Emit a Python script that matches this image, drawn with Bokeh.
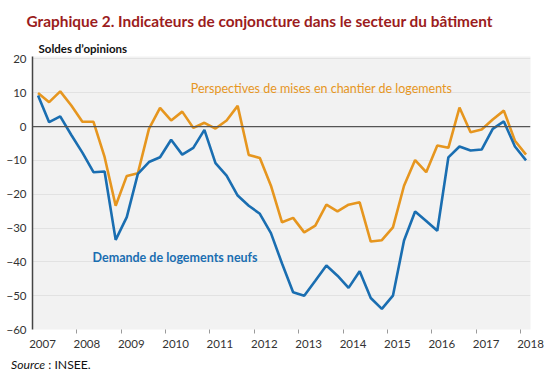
from bokeh.plotting import figure
from bokeh.models import FixedTicker, Title, Span, ColumnDataSource, Range1d, Div
from bokeh.layouts import column
from bokeh.core.properties import value
from bokeh.embed import file_html
from bokeh.resources import INLINE

# Quarterly data, 2007T1 .. 2018T1
years = [y for y in range(2007, 2018) for _ in range(4)] + [2018]
quarters = [1, 2, 3, 4] * 11 + [1]

perspectives = [9.9, 7.2, 10.4, 6.2, 1.4, 1.4, -9.0, -23.4, -14.6, -13.8, -0.7, 5.5,
                1.8, 4.4, -0.4, 1.1, -0.6, 1.8, 6.1, -8.4, -9.3, -17.5, -28.3, -27.0,
                -31.3, -29.3, -23.1, -25.1, -23.1, -22.4, -34.0, -33.6, -29.8, -17.5,
                -9.9, -13.5, -5.6, -6.3, 5.6, -1.7, -0.9, 2.1, 4.7, -4.2, -8.3]
demande = [9.2, 1.3, 3.0, -2.5, -7.7, -13.5, -13.3, -33.5, -26.8, -14.0, -10.5, -9.1,
           -3.9, -8.3, -6.3, -1.0, -10.8, -14.5, -20.4, -23.4, -25.8, -31.5, -40.5, -49.0,
           -50.0, -45.6, -41.1, -44.1, -47.7, -42.8, -50.7, -53.9, -50.0, -33.7, -25.1,
           -27.9, -30.8, -9.1, -5.9, -7.1, -6.8, -0.7, 1.5, -5.9, -10.0]

tick_years = list(range(2007, 2019))
y_ticks = [20, 10, 0, -10, -20, -30, -40, -50, -60]

title_text = "Graphique 2. Indicateurs de conjoncture dans le secteur du bâtiment"
unit_text = "Soldes d\u2019opinions"
label_persp = "Perspectives de mises en chantier de logements"
label_dem = "Demande de logements neufs"
source_html = "<i>Source</i> : INSEE."

ORANGE = "#E6961F"
BLUE = "#1A6EB1"
FONT = "Lato"

x = [y + (q - 0.5) / 4 for y, q in zip(years, quarters)]
src = ColumnDataSource(dict(x=x, persp=perspectives, dem=demande))

p = figure(width=550, height=356, output_backend="svg", toolbar_location=None,
           x_range=Range1d(2007, 2018.226), y_range=Range1d(-60, 20.7),
           min_border_left=32, min_border_right=20, min_border_top=56, min_border_bottom=27)
p.outline_line_color = None
p.background_fill_color = "#f2f2f2"
p.border_fill_color = "white"

# titles
p.title.text = title_text
p.title.text_font = FONT
p.title.text_font_size = "15.4px"
p.title.text_font_style = "bold"
p.title.text_color = "#9B1C20"
p.title.align = "left"
p.title.offset = -6
p.title.standoff = 16

p.add_layout(Title(text=unit_text, text_font=FONT, text_font_size="11.5px",
                   text_font_style="bold", text_color="#111111", align="left",
                   offset=6, standoff=4), "above")

# axes
label_shift = 0.2257
xt = FixedTicker(ticks=[t + label_shift for t in tick_years], minor_ticks=tick_years[1:])
p.xaxis.ticker = xt
p.xaxis.major_label_overrides = {t + label_shift: str(t) for t in tick_years}
p.xaxis.major_tick_out = 0
p.xaxis.major_tick_in = 0
p.xaxis.minor_tick_out = 4
p.xaxis.minor_tick_in = 0
p.xaxis.minor_tick_line_color = "#9a9a9a"
p.xaxis.axis_line_color = None
p.xaxis.major_label_standoff = 6
p.xaxis.major_label_text_font = FONT
p.xaxis.major_label_text_font_size = "11.5px"
p.xaxis.major_label_text_color = "#333333"

p.yaxis.ticker = FixedTicker(ticks=y_ticks)
p.yaxis.major_tick_out = 0
p.yaxis.major_tick_in = 0
p.yaxis.minor_tick_line_color = None
p.yaxis.axis_line_color = "#444444"
p.yaxis.axis_line_width = 1.5
p.yaxis.major_label_standoff = 6
p.yaxis.major_label_text_font = FONT
p.yaxis.major_label_text_font_size = "11.5px"
p.yaxis.major_label_text_color = "#333333"

p.xgrid.grid_line_color = None
p.ygrid.ticker = FixedTicker(ticks=y_ticks)
p.ygrid.grid_line_color = "#e2e2e2"
p.ygrid.grid_line_width = 1

p.add_layout(Span(location=0, dimension="width", line_color="#555555", line_width=1.3))

p.line("x", "persp", source=src, line_color=ORANGE, line_width=2.6)
p.line("x", "dem", source=src, line_color=BLUE, line_width=2.6)

p.text(x=[2010.567], y=[11.2], text=[label_persp], text_color=ORANGE,
       text_font=value(FONT), text_font_size="12.5px", text_baseline="middle", text_align="left")
p.text(x=[2008.354], y=[-38.7], text=[label_dem], text_color=BLUE,
       text_font=value(FONT), text_font_size="12.5px", text_baseline="middle", text_align="left",
       text_font_style="bold")

source_div = Div(text=source_html, width=539, height=22, margin=(0, 0, 0, 11),
                 styles={"font-family": FONT, "font-size": "12.2px", "color": "#111111",
                         "line-height": "14px", "padding-top": "2px"})

layout = column(p, source_div, spacing=0)

open("out.html", "w").write(file_html(layout, INLINE))
